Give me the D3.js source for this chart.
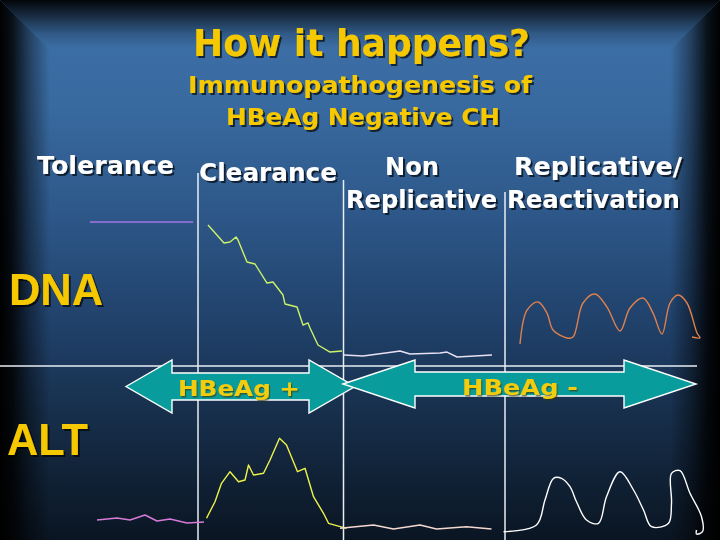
<!DOCTYPE html>
<html><head><meta charset="utf-8">
<script src="https://cdn.jsdelivr.net/npm/d3@7"></script>
<style>html,body{margin:0;padding:0;background:#000}svg{display:block}</style>
</head><body>
<script>
// ---------- DATA ----------
const titleText = "How it happens?";
const subtitleLines = ["Immunopathogenesis of", "HBeAg Negative CH"];
const phaseLabels = [["Tolerance"], ["Clearance"], ["Non", "Replicative"], ["Replicative/", "Reactivation"]];
const phaseDividers = [39.6, 68.7, 101];           // time units where phases change
const panelLabels = ["DNA", "ALT"];
const arrowLabels = ["HBeAg +", "HBeAg -"];
const arrowFrom = [25.2, 68.6];                     // time units
const arrowTo = [71.0, 139.2];

// DNA level (arbitrary log units), [time, value]
const dnaTolerance = [[18, 9.2], [38.6, 9.2]];
const dnaClearance = [[41.6, 9.0], [44.8, 7.8], [46, 7.87], [47.2, 8.2], [47.6, 8.0], [49.4, 6.53], [51, 6.4],
  [53.4, 5.13], [54.6, 5.2], [56.6, 4.33], [57, 3.73], [59.4, 3.53], [60.6, 2.33], [61.6, 2.47], [62, 2.13],
  [63.6, 1.0], [66, 0.53], [68.4, 0.6]];
const dnaNonReplicative = [[68.8, 0.33], [72.6, 0.27], [78.6, 0.53], [80, 0.6], [82, 0.4], [88, 0.47],
  [89.4, 0.53], [91.4, 0.2], [98.4, 0.33]];
const dnaReactivation = [[104, 1.07], [105.4, 3.33], [107.6, 3.87], [109.4, 3.13], [110.6, 2.0], [113.4, 1.47],
  [114.6, 1.53], [116.6, 3.8], [119, 4.4], [121.4, 3.53], [124, 1.93], [126, 3.47], [128.6, 4.13], [130.6, 3.13],
  [132.4, 1.73], [134, 3.8], [135.6, 4.33], [137.4, 3.8], [139.4, 1.8], [140, 1.47], [138.4, 1.53]];

// ALT level (arbitrary units), [time, value]
const altTolerance = [[19.4, 15], [23.4, 17], [26, 15], [29, 20], [31.4, 14], [34, 16], [37.4, 12], [40.8, 13]];
const altClearance = [[41.3, 16.7], [43, 33.3], [44.3, 51.7], [46, 63.3], [47.7, 53.3], [49, 55], [49.7, 70],
  [50.7, 60], [52.7, 61.7], [54, 75], [55.9, 96.7], [57.3, 90], [59.5, 63.3], [61, 66.7], [62.7, 38.3],
  [64.7, 21.7], [65.7, 11.7], [69.3, 6.7]];
const altNonReplicative = [[68, 6.7], [74.7, 10], [78.7, 6], [84, 10], [87.3, 6], [93.3, 8.3], [98.3, 6]];
const altReactivation = [[100.7, 3.3], [107.3, 10], [109, 35], [110.7, 56.7], [112.3, 56.7], [114, 48.3],
  [115.3, 33.3], [117.3, 15], [119.7, 11.7], [121.3, 38.3], [124, 63.3], [126.7, 45], [128.7, 25], [130.3, 8.3],
  [133.7, 11.7], [134.3, 31.7], [134.3, 61.7], [136, 64.3], [138, 41.7], [140.3, 18.3], [140.5, 3.3],
  [139.3, 1], [139.3, 5]];

// ---------- DRAWING ----------
const W = 720, H = 540;
const svg = d3.select("body").append("svg").attr("width", W).attr("height", H);
const defs = svg.append("defs");

function grad(id, x1, y1, x2, y2, stops) {
  const g = defs.append("linearGradient").attr("id", id).attr("gradientUnits", "userSpaceOnUse")
    .attr("x1", x1).attr("y1", y1).attr("x2", x2).attr("y2", y2);
  stops.forEach(s => g.append("stop").attr("offset", s[0]).attr("stop-color", s[1]).attr("stop-opacity", s[2] ?? 1));
}
grad("bg", 0, 0, 0, H, [[0, "#3e72aa"], [0.2, "#38699f"], [0.4, "#2d5788"], [0.6, "#20416a"], [0.8, "#152b45"], [1, "#0a1522"]]);
grad("edgeL", 0, 0, 50, 0, [[0, "#000", 1], [0.25, "#000", 0.85], [0.6, "#000", 0.4], [1, "#000", 0]]);
grad("edgeR", W, 0, W - 50, 0, [[0, "#000", 1], [0.25, "#000", 0.85], [0.6, "#000", 0.4], [1, "#000", 0]]);
grad("edgeT", 0, 0, 0, 48, [[0, "#000", 0.95], [0.3, "#000", 0.65], [0.7, "#000", 0.2], [1, "#000", 0]]);

const shadow = defs.append("filter").attr("id", "sh").attr("x", "-10%").attr("y", "-30%")
  .attr("width", "130%").attr("height", "170%");
shadow.append("feDropShadow").attr("dx", 2).attr("dy", 2).attr("stdDeviation", 0.6)
  .attr("flood-color", "#000").attr("flood-opacity", 0.65);
const shadowS = defs.append("filter").attr("id", "shs").attr("x", "-10%").attr("y", "-30%")
  .attr("width", "130%").attr("height", "170%");
shadowS.append("feDropShadow").attr("dx", 1.2).attr("dy", 1.5).attr("stdDeviation", 0.4)
  .attr("flood-color", "#3a3000").attr("flood-opacity", 0.6);

svg.append("rect").attr("width", W).attr("height", H).attr("fill", "url(#bg)");
svg.append("polygon").attr("points", "0,0 50,50 50,540 0,540").attr("fill", "url(#edgeL)");
svg.append("polygon").attr("points", `${W},0 ${W-50},50 ${W-50},540 ${W},540`).attr("fill", "url(#edgeR)");
svg.append("polygon").attr("points", `0,0 ${W},0 ${W-50},50 50,50`).attr("fill", "url(#edgeT)");

// scales
const x = d3.scaleLinear().domain([0, 144]).range([0, 720]);
const yDNA = d3.scaleLinear().domain([0, 10]).range([360, 210]);
const yALT = d3.scaleLinear().domain([0, 100]).range([535, 435]);

// dividers
const dividerTop = [173, 180, 192];
const sepY = 366;
svg.append("line").attr("x1", 0).attr("x2", 697).attr("y1", sepY).attr("y2", sepY)
  .attr("stroke", "#e8eef4").attr("stroke-width", 1.5);
svg.selectAll(".div").data(phaseDividers).join("line")
  .attr("x1", d => x(d)).attr("x2", d => x(d)).attr("y1", (d, i) => dividerTop[i]).attr("y2", H)
  .attr("stroke", "#e8eef4").attr("stroke-width", 1.5);

// series
const smooth = d3.curveCatmullRom.alpha(0.5), sharp = d3.curveLinear;
const mk = (ys, c) => d3.line().x(d => x(d[0])).y(d => ys(d[1])).curve(c);
const series = [
  [dnaTolerance, mk(yDNA, sharp), "#a573ea"],
  [dnaClearance, mk(yDNA, sharp), "#cdf26a"],
  [dnaNonReplicative, mk(yDNA, sharp), "#e6e0f2"],
  [dnaReactivation, mk(yDNA, smooth), "#e0804c"],
  [altTolerance, mk(yALT, sharp), "#d67ad8"],
  [altClearance, mk(yALT, sharp), "#eef24a"],
  [altNonReplicative, mk(yALT, sharp), "#f4d8d2"],
  [altReactivation, mk(yALT, smooth), "#ffffff"]
];
series.forEach(s => svg.append("path").attr("d", s[1](s[0])).attr("fill", "none")
  .attr("stroke", s[2]).attr("stroke-width", 1.4).attr("stroke-linejoin", "round"));

// arrows
const arrowGeom = [
  { cy: 386.5, body: 13.5, head: 26.5, len: 46 },
  { cy: 384, body: 12, head: 24, len: 72 }
];
arrowLabels.forEach((lab, i) => {
  const g = arrowGeom[i], x0 = x(arrowFrom[i]), x1 = x(arrowTo[i]);
  const pts = [[x0, g.cy], [x0 + g.len, g.cy - g.head], [x0 + g.len, g.cy - g.body], [x1 - g.len, g.cy - g.body],
    [x1 - g.len, g.cy - g.head], [x1, g.cy], [x1 - g.len, g.cy + g.head], [x1 - g.len, g.cy + g.body],
    [x0 + g.len, g.cy + g.body], [x0 + g.len, g.cy + g.head]];
  svg.append("polygon").attr("points", pts.map(p => p.join(",")).join(" "))
    .attr("fill", "#089c9c").attr("stroke", "#ffffff").attr("stroke-width", 1.4).attr("stroke-linejoin", "miter");
});

// text helper
function txt(t, xx, yy, size, family, color, len, filt) {
  svg.append("text").text(t).attr("x", xx).attr("y", yy)
    .attr("font-family", family).attr("font-weight", "bold").attr("font-size", size)
    .attr("textLength", len).attr("lengthAdjust", "spacingAndGlyphs").attr("fill", color)
    .attr("filter", `url(#${filt})`);
}
const dj = "'DejaVu Sans', Verdana, sans-serif";
const ar = "'Liberation Sans', Arial, sans-serif";
const yellow = "#f6c800";

txt(titleText, 193, 56, 38, dj, yellow, 337, "sh");
txt(subtitleLines[0], 188, 93, 23, dj, yellow, 344, "sh");
txt(subtitleLines[1], 226, 125, 23, dj, yellow, 274, "sh");

const phasePos = [
  [[37, 174, 137]],
  [[199, 181, 138]],
  [[385, 175, 54], [346, 208, 151]],
  [[514, 175, 168], [507, 208, 173]]
];
phaseLabels.forEach((lines, i) => lines.forEach((l, j) => {
  const p = phasePos[i][j];
  txt(l, p[0], p[1], 24.5, dj, "#ffffff", p[2], "sh");
}));

txt(panelLabels[0], 9, 305, 44, ar, yellow, 94, "sh");
txt(panelLabels[1], 7, 455, 44, ar, yellow, 81, "sh");

const arrowTextPos = [[178, 395.5, 122], [462, 394.5, 116]];
arrowLabels.forEach((lab, i) => {
  const p = arrowTextPos[i];
  txt(lab, p[0], p[1], 21.5, dj, "#f2cc10", p[2], "shs");
});
</script>
</body></html>
